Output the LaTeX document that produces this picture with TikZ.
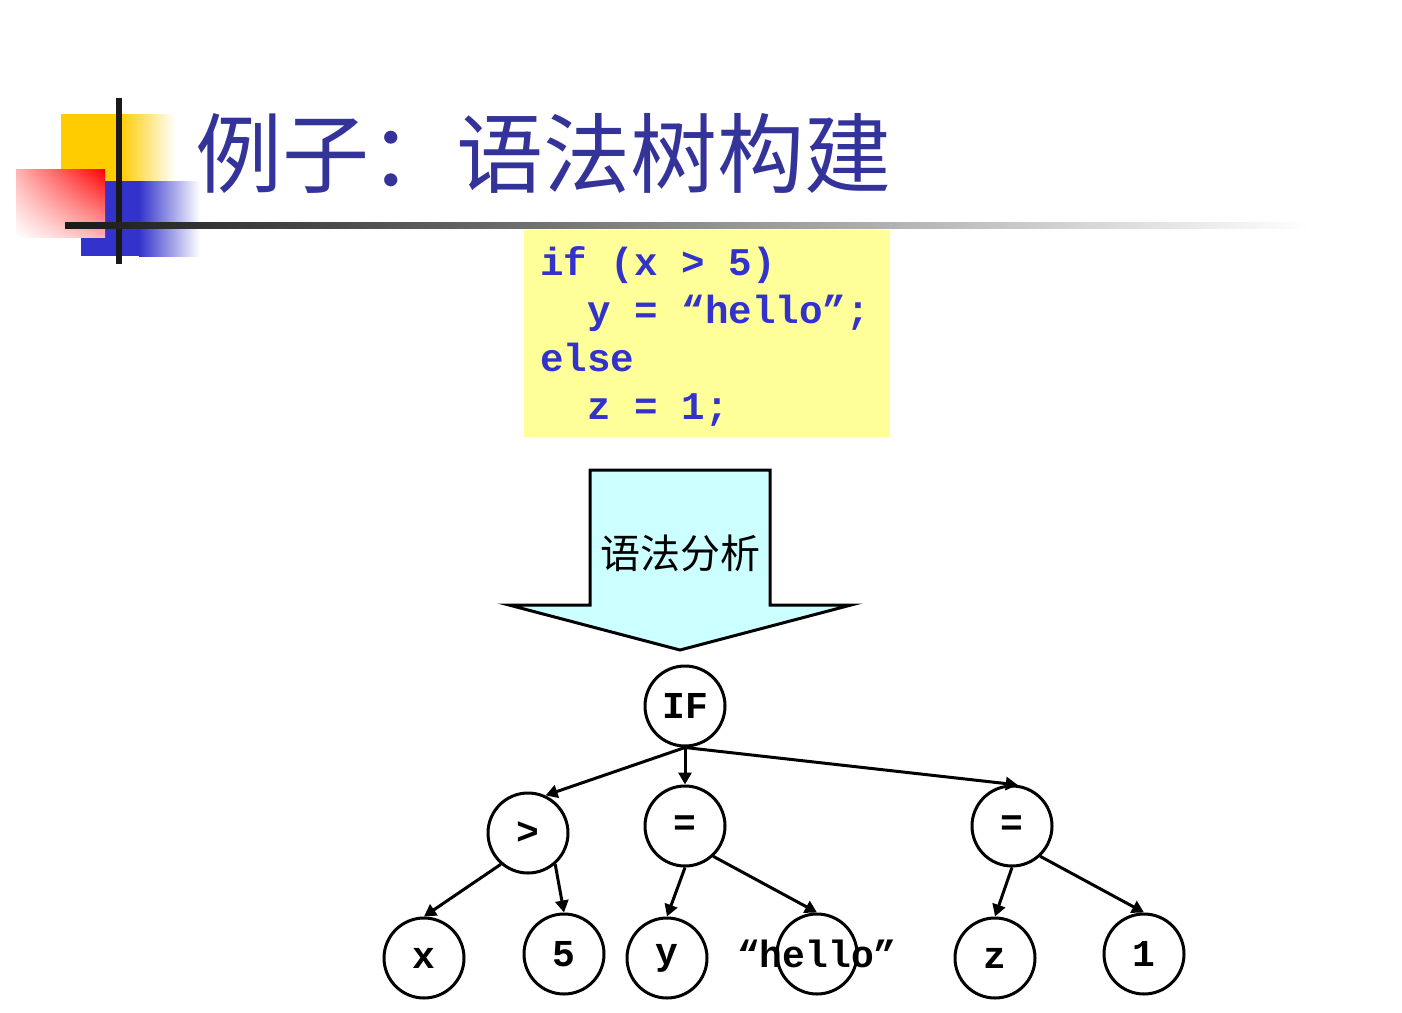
\documentclass[tikz,border=0pt]{standalone}
\usepackage{fontspec}
\setmonofont{Liberation Mono}
\newfontfamily\cjk{Noto Sans CJK SC}
\usetikzlibrary{arrows.meta,shadings}
\definecolor{titleblue}{HTML}{333399}
\definecolor{codeblue}{HTML}{3333CC}
\definecolor{codebg}{HTML}{FFFF99}
\definecolor{arrowfill}{HTML}{CCFFFF}
\definecolor{decoyellow}{HTML}{FFCC00}
\definecolor{decoblue}{HTML}{3333CC}
\begin{document}
\begin{tikzpicture}[x=0.5pt,y=-0.5pt,
    code/.style={anchor=base west, inner sep=0pt, text=codeblue,
      font=\fontsize{19.6}{24}\selectfont\ttfamily\bfseries},
    tnode/.style={draw, circle, line width=1.5pt, minimum size=40pt, inner sep=0pt,
      font=\fontsize{19}{22}\selectfont\ttfamily\bfseries},
    link/.style={line width=1.5pt, -{Triangle[length=6pt,width=6.5pt]}}]
    \useasboundingbox (0,0) rectangle (1402,1012);

    %DECORATION
    \fill[decoyellow] (61,114) rectangle (120,181);
    \shade[left color=decoyellow, right color=white] (120,114) rectangle (175,181);
    \fill[decoblue] (81,181) rectangle (139,256);
    \shade[left color=decoblue, right color=white] (139,181) rectangle (200,256);
    \shade[upper left=red!30, upper right=red, lower left=white, lower right=red!30] (16,169) rectangle (105,237);
    \draw[line width=3pt, black!90] (119,98) -- (119,264);
    \shade[left color=black!90, right color=white] (65,222) rectangle (1310,228);

    %TITLE
    \node[anchor=base west, inner sep=0pt, text=titleblue, font=\cjk\fontsize{43.5}{50}\selectfont] (title) at (195,186) {例子：语法树构建};

    %CODE
    \fill[codebg] (524,230) rectangle (890,437);
    \node[code] (l1) at (540,275) {if (x > 5)};
    \node[code] (l2) at (540,323) {\hphantom{if}y = “hello”;};
    \node[code] (l3) at (540,371) {else};
    \node[code] (l4) at (540,419) {\hphantom{if}z = 1;};

    %ARROW
    \draw[line width=1.5pt, fill=arrowfill] (590,470) -- (770,470) -- (770,605) -- (851,605)
      -- (680,650) -- (509,605) -- (590,605) -- cycle;
    \node[font=\cjk\fontsize{20}{24}\selectfont] (parse) at (680,553) {语法分析};

    %TREE
    \node[tnode] (if) at (685,706) {IF};
    \node[tnode] (gt) at (528,833) {>};
    \node[tnode] (eqa) at (685,826) {=};
    \node[tnode] (eqb) at (1012,826) {=};
    \node[tnode] (x) at (424,958) {x};
    \node[tnode] (five) at (564,954) {5};
    \node[tnode] (y) at (667,958) {y};
    \node[tnode] (hello) at (817,954) {};
    \node[font=\fontsize{19}{22}\selectfont\ttfamily\bfseries] (hellotxt) at (hello) {“hello”};
    \node[tnode] (z) at (995,958) {z};
    \node[tnode] (one) at (1144,954) {1};

    \draw[link] (if.south) -- (gt.65);
    \draw[link] (if.south) -- (eqa.north);
    \draw[link] (if.south) -- (eqb.82);
    \draw[link] (gt.229) -- (x.north);
    \draw[link] (gt.311) -- (five.north);
    \draw[link] (eqa.south) -- (y.north);
    \draw[link] (eqa.313) -- (hello.north);
    \draw[link] (eqb.south) -- (z.north);
    \draw[link] (eqb.313) -- (one.north);
\end{tikzpicture}
\end{document}
